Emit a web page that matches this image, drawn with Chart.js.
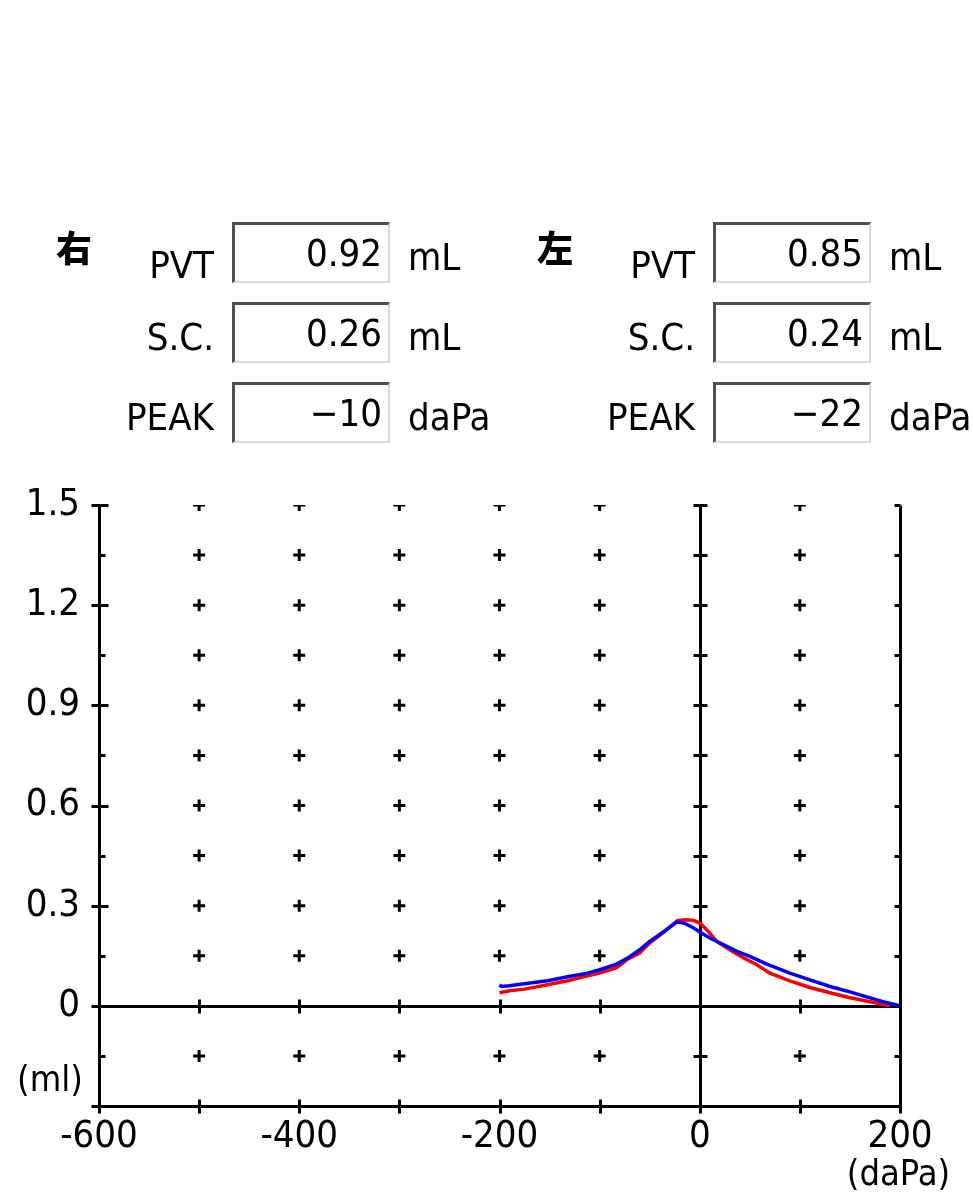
<!DOCTYPE html>
<html>
<head>
<meta charset="utf-8">
<script src="https://cdn.jsdelivr.net/npm/chart.js@4/dist/chart.umd.min.js"></script>
<style>
  body { margin: 0; background: #fff; }
  #wrap { position: relative; width: 973px; height: 1196px; overflow: hidden; }
  #chart { position: absolute; left: 0; top: 0; }
  .lbl, .unit, .ear, .box { position: absolute; color: #000; font-family: "Liberation Sans Narrow", "DejaVu Sans Condensed", "Arial Narrow", sans-serif; font-size: 38px; line-height: 1; white-space: nowrap; }
  .lbl { text-align: right; width: 120px; }
  .ear { font-family: "Noto Sans CJK JP", sans-serif; font-weight: 900; font-size: 36px; }
  .box { box-sizing: border-box; width: 158px; height: 61px; background: #fff;
         border-top: 3px solid #505050; border-left: 3px solid #505050;
         border-bottom: 2px solid #dcd9d0; border-right: 2px solid #dcd9d0;
         text-align: right; padding-right: 6px; line-height: 56px; }
</style>
</head>
<body>
<div id="wrap">
  <canvas id="chart" width="973" height="1196"></canvas>
</div>
<script>
// header readouts
const rowLabels = ["PVT", "S.C.", "PEAK"];
const rightValues = ["0.92", "0.26", "\u221210"];
const leftValues = ["0.85", "0.24", "\u221222"];
const rowUnits = ["mL", "mL", "daPa"];

// axes
const xTicks = [-600, -500, -400, -300, -200, -100, 0, 100, 200];
const xLabelTicks = [-600, -400, -200, 0, 200];
const yTicks = [-0.3, -0.15, 0, 0.15, 0.3, 0.45, 0.6, 0.75, 0.9, 1.05, 1.2, 1.35, 1.5];
const yLabelTicks = [0, 0.3, 0.6, 0.9, 1.2, 1.5];

// right ear (red)
const redX = [-200, -190, -175, -152, -132, -112, -100, -83, -72, -60, -50, -36, -22, -14, -6, 0, 7, 17, 30, 44, 57, 70, 90, 110, 130, 150, 170, 190];
const redY = [0.039, 0.045, 0.050, 0.063, 0.075, 0.090, 0.098, 0.114, 0.140, 0.158, 0.188, 0.221, 0.256, 0.258, 0.256, 0.248, 0.228, 0.193, 0.168, 0.143, 0.123, 0.098, 0.075, 0.055, 0.039, 0.024, 0.012, 0.0];

// left ear (blue)
const blueX = [-200, -198, -190, -175, -152, -132, -112, -100, -83, -72, -60, -50, -36, -23, -16, -6, 0, 10, 24, 37, 50, 67, 90, 110, 130, 150, 170, 184, 200];
const blueY = [0.063, 0.058, 0.060, 0.066, 0.075, 0.087, 0.098, 0.108, 0.125, 0.143, 0.168, 0.193, 0.222, 0.251, 0.248, 0.233, 0.221, 0.203, 0.183, 0.163, 0.148, 0.125, 0.098, 0.078, 0.058, 0.042, 0.024, 0.012, 0.0];

const FONT = '"Liberation Sans Narrow", "DejaVu Sans Condensed", "Arial Narrow", sans-serif';

// build header
const wrap = document.getElementById("wrap");
function put(cls, text, left, top) {
  const d = document.createElement("div");
  d.className = cls;
  d.textContent = text;
  d.style.left = left + "px";
  d.style.top = top + "px";
  wrap.appendChild(d);
}
[[0, "右", rightValues], [481, "左", leftValues]].forEach(([dx, ear, vals]) => {
  put("ear", ear, 56 + dx, 228);
  rowLabels.forEach((lab, i) => {
    const top = 222 + i * 80;
    put("lbl", lab, 94 + dx, top + (i === 0 ? 24 : 16));
    put("box", vals[i], 232 + dx, top);
    put("unit", rowUnits[i], 408 + dx, top + 16);
  });
});

const gridDots = [];
xTicks.filter((x) => x > -600 && x < 200 && x !== 0).forEach((x) => {
  yTicks.filter((y) => y > -0.3 && Math.abs(y) > 0.001).forEach((y) => gridDots.push({ x, y }));
});

const isMajor = (v) => Math.round(v * 100) % 30 === 0;

const axesPlugin = {
  id: "axes",
  beforeDatasetsDraw(chart) {
    const { ctx, scales: { x, y } } = chart;
    const px = (v) => Math.round(x.getPixelForValue(v)) + 0.5;
    const py = (v) => Math.round(y.getPixelForValue(v)) + 0.5;
    const line = (x1, y1, x2, y2) => {
      ctx.beginPath();
      ctx.moveTo(x1, y1);
      ctx.lineTo(x2, y2);
      ctx.stroke();
    };
    ctx.save();
    ctx.strokeStyle = "#000";
    ctx.lineWidth = 3;
    ctx.lineCap = "butt";
    line(px(-600), py(1.5), px(-600), py(-0.3) + 1);
    line(px(0), py(1.5), px(0), py(-0.3));
    line(px(200), py(1.5), px(200), py(-0.3) + 1);
    line(px(-600) - 1, py(-0.3), px(200) + 1, py(-0.3));
    line(px(-600), py(0), px(200), py(0));

    ctx.lineWidth = 3;
    yTicks.forEach((v) => {
      const yy = py(v);
      if (isMajor(v)) line(px(-600) - 8, yy, px(-600) + 9, yy);
      else line(px(-600), yy, px(-600) + 6, yy);
      line(px(0) - 7, yy, px(0) + 7, yy);
      line(px(200) - 6, yy, px(200), yy);
    });
    xTicks.forEach((v) => {
      const xx = px(v);
      line(xx, py(-0.3) - 7, xx, py(-0.3) + 7);
      line(xx, py(0) - 7, xx, py(0) + 7);
    });

    ctx.fillStyle = "#000";
    ctx.font = "36px " + FONT;
    ctx.textAlign = "left";
    ctx.textBaseline = "middle";
    ctx.fillText("(ml)", 17, py(-0.225));
    ctx.textAlign = "center";
    ctx.fillText("(daPa)", px(200) - 2, 1176);
    ctx.restore();
  },
};

new Chart(document.getElementById("chart"), {
  type: "scatter",
  data: {
    datasets: [
      {
        label: "grid",
        data: gridDots,
        pointStyle: "cross",
        pointRadius: 6,
        borderWidth: 3,
        borderColor: "#000",
        showLine: false,
        order: 3,
      },
      {
        label: "右",
        data: redX.map((x, i) => ({ x, y: redY[i] })),
        showLine: true,
        borderColor: "#ff0000",
        borderWidth: 3.5,
        pointRadius: 0,
        tension: 0,
        order: 2,
      },
      {
        label: "左",
        data: blueX.map((x, i) => ({ x, y: blueY[i] })),
        showLine: true,
        borderColor: "#0000ff",
        borderWidth: 3.5,
        pointRadius: 0,
        tension: 0,
        order: 1,
      },
    ],
  },
  options: {
    responsive: false,
    animation: false,
    devicePixelRatio: 1,
    layout: { padding: { top: 505, right: 73, left: 0, bottom: 0 } },
    plugins: { legend: { display: false }, tooltip: { enabled: false } },
    scales: {
      x: {
        type: "linear",
        min: -600,
        max: 200,
        afterFit: (s) => { s.height = 90; },
        afterBuildTicks: (s) => { s.ticks = xTicks.map((value) => ({ value })); },
        grid: { display: false, drawTicks: false },
        border: { display: false },
        ticks: {
          autoSkip: false,
          maxRotation: 0,
          padding: 8,
          color: "#000",
          font: { family: FONT, size: 38 },
          callback: (v) => (xLabelTicks.includes(v) ? String(v) : ""),
        },
      },
      y: {
        type: "linear",
        min: -0.3,
        max: 1.5,
        afterFit: (s) => { s.width = 99; },
        afterBuildTicks: (s) => { s.ticks = yTicks.map((value) => ({ value })); },
        grid: { display: false, drawTicks: false },
        border: { display: false },
        ticks: {
          autoSkip: false,
          padding: 19,
          color: "#000",
          font: { family: FONT, size: 38 },
          callback: (v) => {
            const hit = yLabelTicks.find((t) => Math.abs(t - v) < 0.001);
            if (hit === undefined) return "";
            return hit === 0 ? "0" : hit.toFixed(1);
          },
        },
      },
    },
  },
  plugins: [axesPlugin],
});
</script>
</body>
</html>
